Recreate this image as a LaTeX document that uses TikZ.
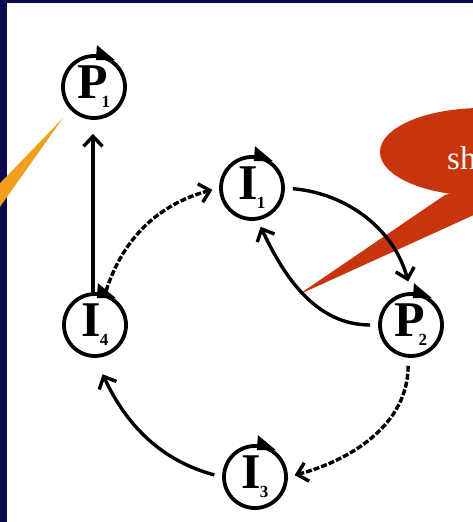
\documentclass[tikz,border=0pt]{standalone}
\usepackage{fontspec}
\setmainfont{Liberation Serif}
\usetikzlibrary{arrows.meta,calc}
\definecolor{navy}{RGB}{12,10,78}
\definecolor{callred}{RGB}{200,52,12}
\definecolor{callorange}{RGB}{240,160,30}
\newcommand{\cyclab}[3]{\textbf{#1}\kern#3\raisebox{-9pt}{\fontsize{17}{17}\selectfont\textbf{#2}}}
\begin{document}
\begin{tikzpicture}[x=1pt,y=1pt,
 st/.style={circle,draw,line width=3.8pt,minimum size=62pt,inner sep=0pt,font=\fontsize{50}{50}\selectfont},
 conn/.style={line width=3.4pt,-{Straight Barb[length=10pt,width=19pt,line width=3.4pt]}},
 dconn/.style={conn,dash pattern=on 6pt off 2pt}]
\useasboundingbox (0,0) rectangle (473,522);
\begin{scope}
\clip (0,0) rectangle (473,522);
\fill[navy] (0,0) rectangle (473,522);
\fill[white] (7,0) rectangle (473,519);
\fill[callorange] (63,404) -- (-20,318) -- (-20,287) -- cycle;
\fill[callred] (482,370) ellipse [x radius=102, y radius=44];
\fill[callred] (445,327) -- (298,227) -- (520,328) -- (520,345) -- cycle;
\node[anchor=base west,text=white,inner sep=0pt,font=\fontsize{33}{33}\selectfont] (shtext) at (447,352) {sh};
\end{scope}
\node[st] (P1) at (94,435) {\cyclab{P}{1}{-7pt}};
\node[st] (I1) at (252,334) {\cyclab{I}{1}{-1pt}};
\node[st] (P2) at (411,197) {\cyclab{P}{2}{-7pt}};
\node[st] (I4) at (95,197) {\cyclab{I}{4}{-1pt}};
\node[st] (I3) at (255,45) {\cyclab{I}{3}{-1pt}};
\foreach \n in {P1,I1,P2,I4,I3}
  \fill ($(\n)+(86:27)$) -- ($(\n)+(86:42)$) -- ($(\n)+(52:34)$) -- cycle;
\draw[conn,shorten >=14pt] ([xshift=-2pt]I4.north) -- ([xshift=-1pt]P1.south);
\draw[dconn,shorten <=3pt,shorten >=7pt] (I4.72) to[out=72,in=195] (I1.west);
\draw[conn,shorten <=8pt,shorten >=11pt] (I1.east) to[out=-5,in=105] (P2.north);
\draw[conn,shorten <=8pt,shorten >=7pt] (P2.west) to[out=180,in=-65] (I1.-80);
\draw[dconn,shorten <=8pt,shorten >=7pt] (P2.-95) to[out=-90,in=15] (I3.east);
\draw[conn,shorten <=8pt,shorten >=18pt] (I3.west) to[out=165,in=-65] (I4.south);
\end{tikzpicture}
\end{document}
